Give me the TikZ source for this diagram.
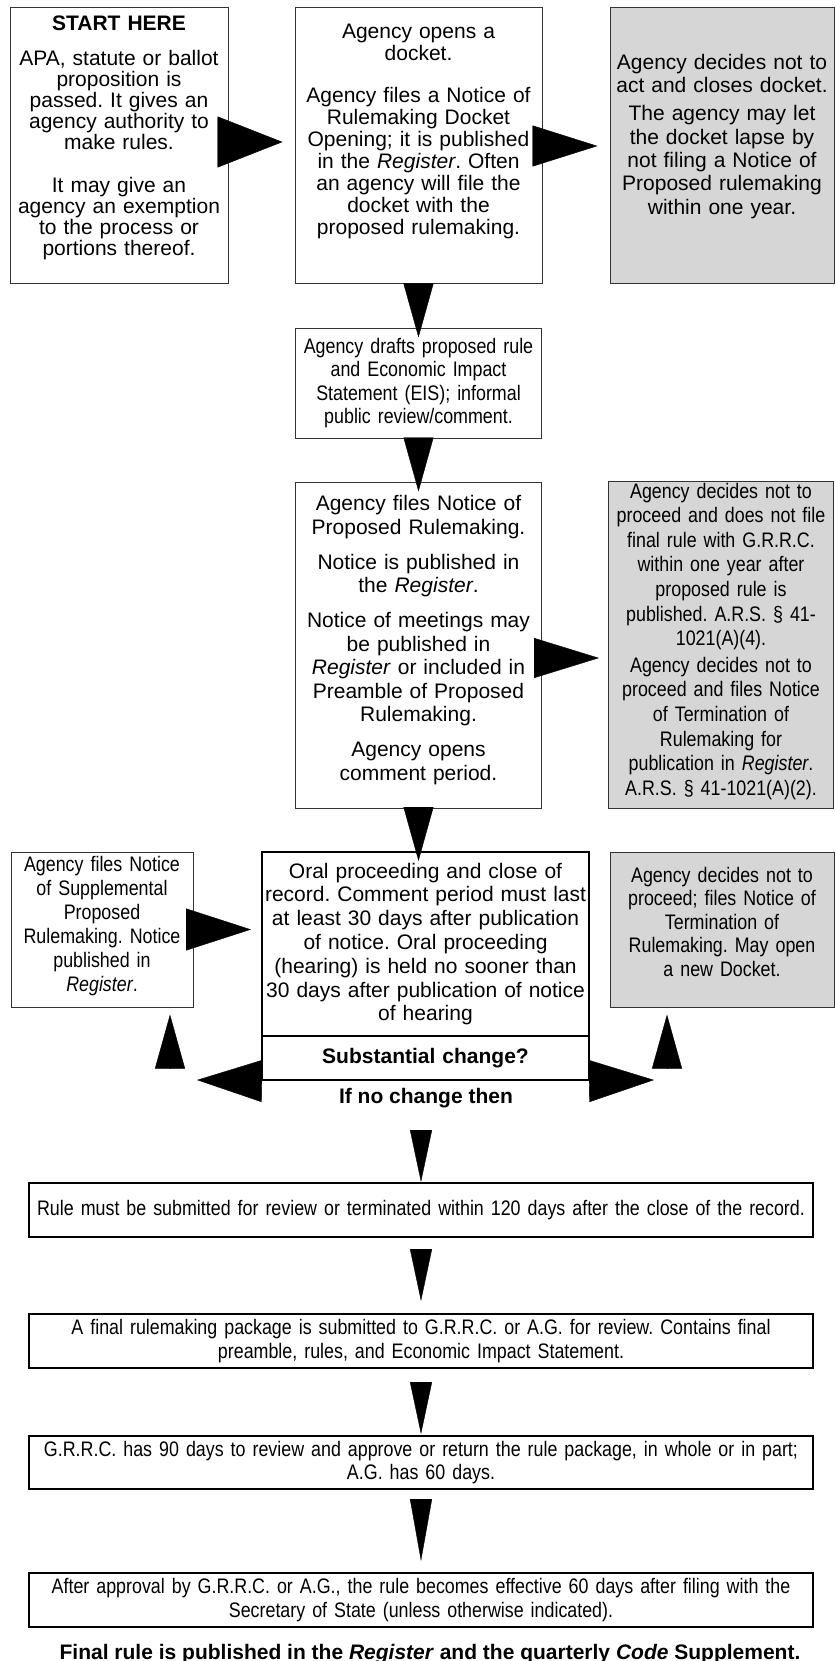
\documentclass[tikz,border=0pt]{standalone}
\usepackage{fontspec}
\setmainfont{Liberation Sans}
\newfontfamily\narrowfam{Liberation Sans}[FakeStretch=0.85]
\usetikzlibrary{positioning, calc, arrows.meta}

\newcommand{\boxfont}{\fontsize{21pt}{23.5pt}\selectfont}
\newcommand{\slimfont}{\narrowfam\fontsize{21pt}{23.5pt}\selectfont}
% deeper last line, so that the text sits higher in its box
\newcommand{\liftby}[1]{\rule[-#1]{0pt}{#1}}

\begin{document}
\frenchspacing
\begin{tikzpicture}[x=1pt, y=-1pt]
  \tikzstyle{stage}=[draw=black!80, line width=1pt, inner xsep=1pt, inner ysep=0pt, align=center, font=\boxfont]
  \tikzstyle{stop-node}=[stage, fill=gray!32]
  \tikzstyle{long-stage}=[stage, draw=black, line width=2pt, font=\slimfont, minimum width=784pt, minimum height=54pt, text width=782pt]
  \tikzstyle{side-tip}=[-{Triangle[length=65pt,width=42pt]}, line width=0.4pt]
  \tikzstyle{down-tip}=[-{Triangle[length=54pt,width=30pt]}, line width=0.4pt]
  \tikzstyle{thin-tip}=[-{Triangle[length=52pt,width=22pt]}, line width=0.4pt]

  \useasboundingbox (0,0) rectangle (835,1661);

  \node [stage, minimum width=218pt, minimum height=276pt, text width=216pt, font=\fontsize{21pt}{21pt}\selectfont] (start) at (119,146)
    {\textbf{START HERE}\\[14pt] APA, statute or ballot\\ proposition is\\ passed. It gives an\\ agency authority to\\ make rules.\\[22pt]
     It may give an\\ agency an exemption\\ to the process or\\ portions thereof.\liftby{20pt}};
  \node [stage, right = 66pt of start, minimum width=247pt, minimum height=276pt, text width=245pt, font=\fontsize{21pt}{22pt}\selectfont] (docket)
    {Agency opens a\\ docket.\\[20pt] Agency files a Notice of\\ Rulemaking Docket\\ Opening; it is published\\ in the \textit{Register}. Often\\ an agency will file the\\ docket with the\\ proposed rulemaking.\liftby{34pt}};
  \node [stop-node, right = 67pt of docket, minimum width=224pt, minimum height=276pt, text width=222pt, font=\fontsize{21pt}{23.3pt}\selectfont] (lapse)
    {Agency decides not to\\ act and closes docket.\\[5pt] The agency may let\\ the docket lapse by\\ not filing a Notice of\\ Proposed rulemaking\\ within one year.\liftby{24pt}};

  \node [stage, below = 43pt of docket, minimum width=246pt, minimum height=110pt, text width=244pt, font=\slimfont] (drafts)
    {Agency drafts proposed rule\\ and Economic Impact\\ Statement (EIS); informal\\ public review/comment.};
  \node [stage, below = 43pt of drafts, minimum width=246pt, minimum height=326pt, text width=244pt] (proposal)
    {Agency files Notice of\\ Proposed Rulemaking.\\[11.5pt] Notice is published in\\ the \textit{Register}.\\[11.5pt] Notice of meetings may\\ be published in\\ \textit{Register} or included in\\ Preamble of Proposed\\ Rulemaking.\\[11.5pt] Agency opens\\ comment period.\liftby{14pt}};
  \node [stop-node, right = 66pt of proposal, minimum width=225pt, minimum height=327pt, text width=223pt, font=\narrowfam\fontsize{21pt}{24.6pt}\selectfont] (withdraw)
    {Agency decides not to\\ proceed and does not file\\ final rule with G.R.R.C.\\ within one year after\\ proposed rule is\\ published. A.R.S. § 41-\\ 1021(A)(4).\\[2pt] Agency decides not to\\ proceed and files Notice\\ of Termination of\\ Rulemaking for\\ publication in \textit{Register}.\\ A.R.S. § 41-1021(A)(2).\liftby{12pt}};

  \node [stage, draw=black, line width=2pt, minimum width=327pt, minimum height=184pt, text width=325pt, font=\fontsize{21pt}{23.8pt}\selectfont] (hearing) at (425.5,944)
    {Oral proceeding and close of\\ record. Comment period must last\\ at least 30 days after publication\\ of notice. Oral proceeding\\ (hearing) is held no sooner than\\ 30 days after publication of notice\\ of hearing};
  \node [stage, draw=black, line width=2pt, below = -2pt of hearing, minimum width=327pt, minimum height=44pt, text width=325pt] (change) {\textbf{Substantial change?}};
  \node [font=\boxfont\bfseries, anchor=base, inner sep=0pt] (nochg) at (426,1103) {If no change then};

  \node [stage, minimum width=182pt, minimum height=155pt, text width=180pt, font=\narrowfam\fontsize{21pt}{24pt}\selectfont] (supplement) at (102,929.5)
    {Agency files Notice\\ of Supplemental\\ Proposed\\ Rulemaking. Notice\\ published in\\ \textit{Register}.\liftby{12pt}};
  \node [stop-node, minimum width=224pt, minimum height=155pt, text width=222pt, font=\slimfont] (terminate) at (722,929.5)
    {Agency decides not to\\ proceed; files Notice of\\ Termination of\\ Rulemaking. May open\\ a new Docket.\liftby{16pt}};

  % final steps
  \node [long-stage] (rule) at (421,1210) {Rule must be submitted for review or terminated within 120 days after the close of the record.};
  \node [long-stage, below = 75pt of rule] (package) {A final rulemaking package is submitted to G.R.R.C. or A.G. for review. Contains final\\ preamble, rules, and Economic Impact Statement.};
  \node [long-stage, below = 66pt of package, minimum height=53pt] (review) {G.R.R.C. has 90 days to review and approve or return the rule package, in whole or in part;\\ A.G. has 60 days.};
  \node [long-stage, below = 82pt of review] (effective) {After approval by G.R.R.C. or A.G., the rule becomes effective 60 days after filing with the\\ Secretary of State (unless otherwise indicated).};
  \node [font=\boxfont\bfseries, anchor=base, inner sep=0pt] (published) at (430,1659) {Final rule is published in the \textit{Register} and the quarterly \textit{Code} Supplement.};

  \coordinate (yes-l) at (197,1080);
  \coordinate (yes-r) at (654,1080);
  \coordinate (up-l) at (170,1068);
  \coordinate (up-r) at (667,1068);
  \coordinate (to-rule) at (421,1131);

  \draw [side-tip, -{Triangle[length=65pt,width=51pt]}] ([xshift=-10pt,yshift=4pt]start.east) -- ([xshift=-12pt,yshift=4pt]docket.west);
  \draw [side-tip, -{Triangle[length=65pt,width=41pt]}] ([xshift=-9pt]docket.east) -- ([xshift=-12pt]lapse.west);
  \draw [down-tip] (docket.south) -- ([yshift=-10pt]drafts.north);
  \draw [down-tip] (drafts.south) -- ([yshift=-10pt]proposal.north);
  \draw [side-tip, -{Triangle[length=65pt,width=40pt]}] ([xshift=-8pt,yshift=-13pt]proposal.east) -- ([xshift=-9pt,yshift=-13pt]withdraw.west);
  \draw [down-tip] (proposal.south) -- ($(proposal.south |- hearing.north)+(0,10)$);
  \draw [side-tip] ([xshift=-6pt]supplement.east) -- ($(supplement.east -| hearing.west)+(-10,0)$);

  \draw [side-tip] (change.south west) -- (yes-l);
  \draw [side-tip] (change.south east) -- (yes-r);
  \draw [down-tip] (up-l) -- ($(up-l |- supplement.south)+(0,7)$);
  \draw [down-tip] (up-r) -- ($(up-r |- terminate.south)+(0,7)$);

  \draw [thin-tip] (to-rule) -- (rule.north);
  \draw [thin-tip] ([yshift=-13pt]rule.south) -- ([yshift=12pt]package.north);
  \draw [thin-tip] ([yshift=-15pt]package.south) -- ([yshift=1pt]review.north);
  \draw [thin-tip, -{Triangle[length=62pt,width=22pt]}] ([yshift=-11pt]review.south) -- ([yshift=11pt]effective.north);
\end{tikzpicture}
\end{document}
